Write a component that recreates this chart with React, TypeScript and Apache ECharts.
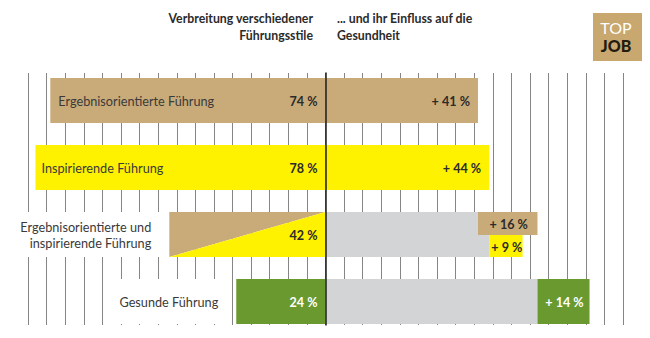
import React, { useEffect, useRef } from "react";
import * as echarts from "echarts";

// ---- data ----
const categories = [
  "Ergebnisorientierte Führung",
  "Inspirierende Führung",
  "Ergebnisorientierte und\ninspirierende Führung",
  "Gesunde Führung",
];
const prevalence = [74, 78, 42, 24]; // % Verbreitung
const effectSingle = [41, 44]; // Einfluss: ergebnisorientiert, inspirierend
const effectCombinedPlus = [16, 9]; // kombiniert: zusätzlich zu ergebnisorientiert / inspirierend
const effectHealthyPlus = 14; // gesunde Führung zusätzlich
const headerLeftLines = ["Verbreitung verschiedener", "Führungsstile"];
const headerRightLines = ["... und ihr Einfluss auf die", "Gesundheit"];
const axisMin = -80;
const axisMax = 80;
const axisInterval = 5;

// ---- styles ----
const TAN = "#C9AB79";
const YELLOW = "#FFF200";
const GREEN = "#6A9A2F";
const GRAY = "#D3D4D6";
const TXT = "#3a3a3a";
const FONT = "Lato, 'Noto Sans', sans-serif";
const BAR_H = 45;
const LABEL_FONT = `12.7px ${FONT}`;
const VALUE_FONT = `bold 12.6px ${FONT}`;

const pct = (v: number) => `${v} %`;
const plus = (v: number) => `+ ${v} %`;

const leftColors = [TAN, YELLOW, "split", GREEN];

const combinedTotal = effectSingle[0] + effectCombinedPlus[0];

type Seg = {
  start: number;
  end: number;
  row: number;
  part: "full" | "upper" | "lower";
  color: string;
  label?: string;
  labelPos?: "insideRight" | "center";
  labelColor?: string;
};

const rightSegs: Seg[] = [
  { start: 0, end: effectSingle[0], row: 1, part: "full", color: TAN, label: plus(effectSingle[0]), labelPos: "insideRight" },
  { start: 0, end: effectSingle[1], row: 2, part: "full", color: YELLOW, label: plus(effectSingle[1]), labelPos: "insideRight" },
  { start: 0, end: effectSingle[0], row: 3, part: "upper", color: GRAY },
  { start: effectSingle[0], end: effectSingle[0] + effectCombinedPlus[0], row: 3, part: "upper", color: TAN, label: plus(effectCombinedPlus[0]), labelPos: "center" },
  { start: 0, end: effectSingle[1], row: 3, part: "lower", color: GRAY },
  { start: effectSingle[1], end: effectSingle[1] + effectCombinedPlus[1], row: 3, part: "lower", color: YELLOW, label: plus(effectCombinedPlus[1]), labelPos: "center" },
  { start: 0, end: combinedTotal, row: 4, part: "full", color: GRAY },
  { start: combinedTotal, end: combinedTotal + effectHealthyPlus, row: 4, part: "full", color: GREEN, label: plus(effectHealthyPlus), labelPos: "center", labelColor: "#fff" },
];

function txt(x: number, y: number, text: string, font: string, fill: string, align: string, extra: any = {}) {
  return {
    type: "text",
    x,
    y,
    z2: 20,
    style: {
      text,
      font,
      fill,
      align,
      verticalAlign: "middle",
      textAlign: align,
      textVerticalAlign: "middle",
      ...extra,
    },
  };
}

function renderLeft(params: any, api: any) {
  const i = params.dataIndex;
  const v = api.value(0);
  const row = api.value(1);
  const c = api.coord([0, row]);
  const l = api.coord([v, row]);
  const x0 = c[0];
  const xl = l[0];
  const cy = c[1];
  const top = cy - BAR_H / 2;
  const bottom = cy + BAR_H / 2;
  const children: any[] = [];
  const col = leftColors[i];
  if (col === "split") {
    children.push({
      type: "polygon",
      shape: { points: [[xl, top], [x0, top], [xl, bottom]] },
      style: { fill: TAN },
    });
    children.push({
      type: "polygon",
      shape: { points: [[x0, top], [x0, bottom], [xl, bottom]] },
      style: { fill: YELLOW },
    });
  } else {
    children.push({
      type: "rect",
      shape: { x: xl, y: top, width: x0 - xl, height: BAR_H },
      style: { fill: col },
    });
  }
  const valColor = col === GREEN ? "#fff" : "#2b2b2b";
  children.push(txt(x0 - 8, cy + 1, pct(prevalence[i]), VALUE_FONT, valColor, "right"));
  if (i < 2) {
    children.push(txt(xl + (i === 0 ? 8 : 6), cy + 1, categories[i], LABEL_FONT, TXT, "left"));
  } else {
    const lines = categories[i].split("\n").length;
    const padV = (BAR_H - lines * 16) / 2;
    children.push(
      txt(xl - 9, cy, categories[i], LABEL_FONT, TXT, "right", {
        lineHeight: 16,
        backgroundColor: "#ffffff",
        padding: [padV, 9, padV, 6],
      })
    );
  }
  return { type: "group", children };
}

function renderRight(params: any, api: any) {
  const s = rightSegs[params.dataIndex];
  const a = api.coord([api.value(0), api.value(2)]);
  const b = api.coord([api.value(1), api.value(2)]);
  const cy = a[1];
  let top = cy - BAR_H / 2;
  let h = BAR_H;
  const upperH = 23;
  if (s.part === "upper") h = upperH;
  if (s.part === "lower") {
    top = top + upperH;
    h = BAR_H - upperH;
  }
  const children: any[] = [
    { type: "rect", shape: { x: a[0], y: top, width: b[0] - a[0], height: h }, style: { fill: s.color } },
  ];
  if (s.label) {
    const ly = top + h / 2 + 1;
    const fill = s.labelColor || "#2b2b2b";
    if (s.labelPos === "insideRight") children.push(txt(b[0] - 8, ly, s.label, VALUE_FONT, fill, "right"));
    else children.push(txt((a[0] + b[0]) / 2 + 1, ly, s.label, VALUE_FONT, fill, "center"));
  }
  return { type: "group", children };
}

export default function App() {
  const ref = useRef<HTMLDivElement>(null);
  useEffect(() => {
    if (!ref.current) return;
    const chart = echarts.init(ref.current, undefined, { renderer: "svg" });
    const headerFont = `bold 12.3px ${FONT}`;
    chart.setOption({
      animation: false,
      backgroundColor: "#ffffff",
      grid: { left: 28, right: 27, top: 73, bottom: 13, containLabel: false },
      xAxis: {
        type: "value",
        min: axisMin,
        max: axisMax,
        interval: axisInterval,
        axisLine: { show: false },
        axisTick: { show: false },
        axisLabel: { show: false },
        splitLine: { show: true, lineStyle: { color: "#858585", width: 1 } },
      },
      yAxis: {
        type: "value",
        min: 0.5896,
        max: 4.3507,
        inverse: true,
        z: 10,
        axisLine: { show: true, onZero: true, lineStyle: { color: "#1e1e1e", width: 1.5 } },
        axisTick: { show: false },
        axisLabel: { show: false },
        splitLine: { show: false },
      },
      series: [
        {
          type: "custom",
          name: "Verbreitung",
          renderItem: renderLeft,
          encode: { x: 0, y: 1 },
          data: prevalence.map((v, i) => [-v, i + 1]),
          z: 3,
        },
        {
          type: "custom",
          name: "Einfluss",
          renderItem: renderRight,
          encode: { x: [0, 1], y: 2 },
          data: rightSegs.map((s) => [s.start, s.end, s.row]),
          z: 3,
        },
      ],
      graphic: [
        ...headerLeftLines.map((t, k) => ({
          type: "text",
          x: 313,
          y: 18 + k * 17,
          style: { text: t, font: headerFont, fill: "#2b2b2b", align: "right", verticalAlign: "middle", textAlign: "right", textVerticalAlign: "middle" },
        })),
        ...headerRightLines.map((t, k) => ({
          type: "text",
          x: 337,
          y: 18 + k * 17,
          style: { text: t, font: headerFont, fill: "#2b2b2b", align: "left", verticalAlign: "middle", textAlign: "left", textVerticalAlign: "middle" },
        })),
        { type: "rect", shape: { x: 593, y: 13, width: 49, height: 48 }, style: { fill: "#C8A86E" } },
        {
          type: "text",
          x: 616,
          y: 27,
          style: { text: "TOP", font: `16px ${FONT}`, fill: "#ffffff", align: "center", verticalAlign: "middle", textAlign: "center", textVerticalAlign: "middle" },
        },
        {
          type: "text",
          x: 616,
          y: 45,
          style: { text: "JOB", font: `900 16px ${FONT}`, fill: "#231a10", align: "center", verticalAlign: "middle", textAlign: "center", textVerticalAlign: "middle" },
        },
      ],
    });
    return () => chart.dispose();
  }, []);
  return <div ref={ref} style={{ width: 650, height: 338, position: "absolute", left: 0, top: 0 }} />;
}
